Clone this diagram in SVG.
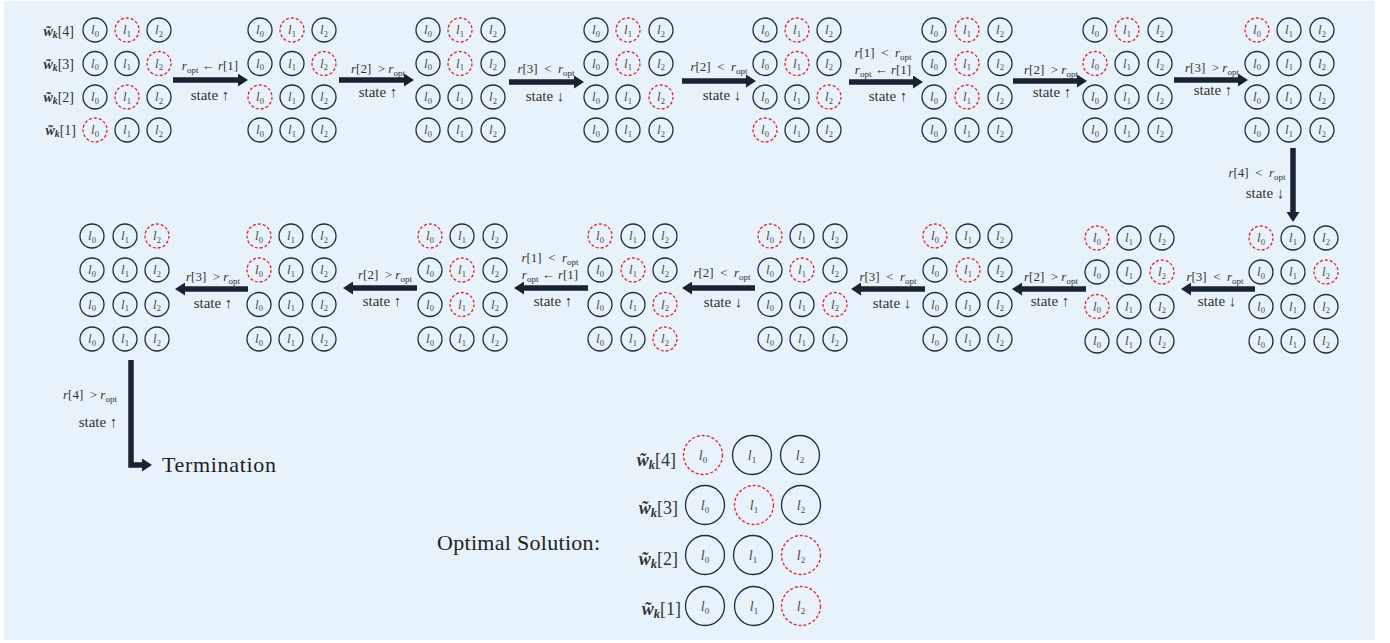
<svg xmlns="http://www.w3.org/2000/svg" width="1390" height="643" viewBox="0 0 1390 643">
<style>
.n{fill:none;stroke:#1e2d4a;stroke-width:1.3}
.r{fill:none;stroke:#e5222a;stroke-width:1.3;stroke-dasharray:3 2}
.t{font-family:"Liberation Serif",serif;font-size:13px;font-style:italic;fill:#4a4a4a;text-anchor:middle}
.t .s{font-size:8.5px;font-style:normal}
.o{font-family:"Liberation Serif",serif;font-size:14px;font-style:italic;fill:#4a4a4a;text-anchor:middle}
.o .s{font-size:9px;font-style:normal}
.ar{fill:none;stroke:#1a2233;stroke-width:5.5}
.tx{font-family:"Liberation Serif",serif;font-size:13px;fill:#333;text-anchor:middle}
.tx .i{font-style:italic}
.tx .sb{font-size:9px}
.st{font-family:"Liberation Serif",serif;font-size:15px;fill:#333;text-anchor:middle}
.wl{font-family:"Liberation Serif",serif;font-size:14px;fill:#333;text-anchor:end}
.wo{font-family:"Liberation Serif",serif;font-size:18px;fill:#333;text-anchor:end}
.wb{font-weight:bold;font-style:italic}
.ks{font-weight:bold;font-style:italic;font-size:70%}
.big{font-family:"Liberation Serif",serif;font-size:22px;fill:#222}
</style>
<defs>
<marker id="ah" markerUnits="userSpaceOnUse" markerWidth="10" markerHeight="13" refX="0" refY="6.5" orient="auto"><path d="M0,0 L10,6.5 L0,13 z" fill="#1a2233"/></marker>
</defs>
<rect x="4" y="1" width="1371" height="639" fill="#e8f2fa"/>

<g id="rowlabels">
<text class="wl" x="74" y="36"><tspan class="wb">w&#x303;</tspan><tspan class="ks" dy="2">k</tspan><tspan dy="-2">[4]</tspan></text>
<text class="wl" x="74" y="69"><tspan class="wb">w&#x303;</tspan><tspan class="ks" dy="2">k</tspan><tspan dy="-2">[3]</tspan></text>
<text class="wl" x="74" y="102"><tspan class="wb">w&#x303;</tspan><tspan class="ks" dy="2">k</tspan><tspan dy="-2">[2]</tspan></text>
<text class="wl" x="76" y="135"><tspan class="wb">w&#x303;</tspan><tspan class="ks" dy="2">k</tspan><tspan dy="-2">[1]</tspan></text>
</g>

<g id="g1">
<circle class="n" cx="95" cy="30" r="12"/><text class="t" x="95" y="34">l<tspan class="s" dy="2.5">0</tspan></text>
<circle class="r" cx="127" cy="30" r="12"/><text class="t" x="127" y="34">l<tspan class="s" dy="2.5">1</tspan></text>
<circle class="n" cx="159" cy="30" r="12"/><text class="t" x="159" y="34">l<tspan class="s" dy="2.5">2</tspan></text>
<circle class="n" cx="95" cy="63.5" r="12"/><text class="t" x="95" y="67.5">l<tspan class="s" dy="2.5">0</tspan></text>
<circle class="n" cx="127" cy="63.5" r="12"/><text class="t" x="127" y="67.5">l<tspan class="s" dy="2.5">1</tspan></text>
<circle class="r" cx="159" cy="63.5" r="12"/><text class="t" x="159" y="67.5">l<tspan class="s" dy="2.5">2</tspan></text>
<circle class="n" cx="95" cy="97" r="12"/><text class="t" x="95" y="101">l<tspan class="s" dy="2.5">0</tspan></text>
<circle class="r" cx="127" cy="97" r="12"/><text class="t" x="127" y="101">l<tspan class="s" dy="2.5">1</tspan></text>
<circle class="n" cx="159" cy="97" r="12"/><text class="t" x="159" y="101">l<tspan class="s" dy="2.5">2</tspan></text>
<circle class="r" cx="95" cy="130" r="12"/><text class="t" x="95" y="134">l<tspan class="s" dy="2.5">0</tspan></text>
<circle class="n" cx="127" cy="130" r="12"/><text class="t" x="127" y="134">l<tspan class="s" dy="2.5">1</tspan></text>
<circle class="n" cx="159" cy="130" r="12"/><text class="t" x="159" y="134">l<tspan class="s" dy="2.5">2</tspan></text>
</g>

<g id="g2">
<circle class="n" cx="260" cy="30" r="12"/><text class="t" x="260" y="34">l<tspan class="s" dy="2.5">0</tspan></text>
<circle class="r" cx="292" cy="30" r="12"/><text class="t" x="292" y="34">l<tspan class="s" dy="2.5">1</tspan></text>
<circle class="n" cx="324" cy="30" r="12"/><text class="t" x="324" y="34">l<tspan class="s" dy="2.5">2</tspan></text>
<circle class="n" cx="260" cy="63.5" r="12"/><text class="t" x="260" y="67.5">l<tspan class="s" dy="2.5">0</tspan></text>
<circle class="n" cx="292" cy="63.5" r="12"/><text class="t" x="292" y="67.5">l<tspan class="s" dy="2.5">1</tspan></text>
<circle class="r" cx="324" cy="63.5" r="12"/><text class="t" x="324" y="67.5">l<tspan class="s" dy="2.5">2</tspan></text>
<circle class="r" cx="260" cy="97" r="12"/><text class="t" x="260" y="101">l<tspan class="s" dy="2.5">0</tspan></text>
<circle class="n" cx="292" cy="97" r="12"/><text class="t" x="292" y="101">l<tspan class="s" dy="2.5">1</tspan></text>
<circle class="n" cx="324" cy="97" r="12"/><text class="t" x="324" y="101">l<tspan class="s" dy="2.5">2</tspan></text>
<circle class="n" cx="260" cy="130" r="12"/><text class="t" x="260" y="134">l<tspan class="s" dy="2.5">0</tspan></text>
<circle class="n" cx="292" cy="130" r="12"/><text class="t" x="292" y="134">l<tspan class="s" dy="2.5">1</tspan></text>
<circle class="n" cx="324" cy="130" r="12"/><text class="t" x="324" y="134">l<tspan class="s" dy="2.5">2</tspan></text>
</g>

<g id="g3">
<circle class="n" cx="428" cy="30" r="12"/><text class="t" x="428" y="34">l<tspan class="s" dy="2.5">0</tspan></text>
<circle class="r" cx="460" cy="30" r="12"/><text class="t" x="460" y="34">l<tspan class="s" dy="2.5">1</tspan></text>
<circle class="n" cx="493" cy="30" r="12"/><text class="t" x="493" y="34">l<tspan class="s" dy="2.5">2</tspan></text>
<circle class="n" cx="428" cy="63.5" r="12"/><text class="t" x="428" y="67.5">l<tspan class="s" dy="2.5">0</tspan></text>
<circle class="r" cx="460" cy="63.5" r="12"/><text class="t" x="460" y="67.5">l<tspan class="s" dy="2.5">1</tspan></text>
<circle class="n" cx="493" cy="63.5" r="12"/><text class="t" x="493" y="67.5">l<tspan class="s" dy="2.5">2</tspan></text>
<circle class="n" cx="428" cy="97" r="12"/><text class="t" x="428" y="101">l<tspan class="s" dy="2.5">0</tspan></text>
<circle class="n" cx="460" cy="97" r="12"/><text class="t" x="460" y="101">l<tspan class="s" dy="2.5">1</tspan></text>
<circle class="n" cx="493" cy="97" r="12"/><text class="t" x="493" y="101">l<tspan class="s" dy="2.5">2</tspan></text>
<circle class="n" cx="428" cy="130" r="12"/><text class="t" x="428" y="134">l<tspan class="s" dy="2.5">0</tspan></text>
<circle class="n" cx="460" cy="130" r="12"/><text class="t" x="460" y="134">l<tspan class="s" dy="2.5">1</tspan></text>
<circle class="n" cx="493" cy="130" r="12"/><text class="t" x="493" y="134">l<tspan class="s" dy="2.5">2</tspan></text>
</g>

<g id="g4">
<circle class="n" cx="596" cy="30" r="12"/><text class="t" x="596" y="34">l<tspan class="s" dy="2.5">0</tspan></text>
<circle class="r" cx="628" cy="30" r="12"/><text class="t" x="628" y="34">l<tspan class="s" dy="2.5">1</tspan></text>
<circle class="n" cx="661" cy="30" r="12"/><text class="t" x="661" y="34">l<tspan class="s" dy="2.5">2</tspan></text>
<circle class="n" cx="596" cy="63.5" r="12"/><text class="t" x="596" y="67.5">l<tspan class="s" dy="2.5">0</tspan></text>
<circle class="r" cx="628" cy="63.5" r="12"/><text class="t" x="628" y="67.5">l<tspan class="s" dy="2.5">1</tspan></text>
<circle class="n" cx="661" cy="63.5" r="12"/><text class="t" x="661" y="67.5">l<tspan class="s" dy="2.5">2</tspan></text>
<circle class="n" cx="596" cy="97" r="12"/><text class="t" x="596" y="101">l<tspan class="s" dy="2.5">0</tspan></text>
<circle class="n" cx="628" cy="97" r="12"/><text class="t" x="628" y="101">l<tspan class="s" dy="2.5">1</tspan></text>
<circle class="r" cx="661" cy="97" r="12"/><text class="t" x="661" y="101">l<tspan class="s" dy="2.5">2</tspan></text>
<circle class="n" cx="596" cy="130" r="12"/><text class="t" x="596" y="134">l<tspan class="s" dy="2.5">0</tspan></text>
<circle class="n" cx="628" cy="130" r="12"/><text class="t" x="628" y="134">l<tspan class="s" dy="2.5">1</tspan></text>
<circle class="n" cx="661" cy="130" r="12"/><text class="t" x="661" y="134">l<tspan class="s" dy="2.5">2</tspan></text>
</g>

<g id="g5">
<circle class="n" cx="765" cy="30" r="12"/><text class="t" x="765" y="34">l<tspan class="s" dy="2.5">0</tspan></text>
<circle class="r" cx="797" cy="30" r="12"/><text class="t" x="797" y="34">l<tspan class="s" dy="2.5">1</tspan></text>
<circle class="n" cx="829" cy="30" r="12"/><text class="t" x="829" y="34">l<tspan class="s" dy="2.5">2</tspan></text>
<circle class="n" cx="765" cy="63.5" r="12"/><text class="t" x="765" y="67.5">l<tspan class="s" dy="2.5">0</tspan></text>
<circle class="r" cx="797" cy="63.5" r="12"/><text class="t" x="797" y="67.5">l<tspan class="s" dy="2.5">1</tspan></text>
<circle class="n" cx="829" cy="63.5" r="12"/><text class="t" x="829" y="67.5">l<tspan class="s" dy="2.5">2</tspan></text>
<circle class="n" cx="765" cy="97" r="12"/><text class="t" x="765" y="101">l<tspan class="s" dy="2.5">0</tspan></text>
<circle class="n" cx="797" cy="97" r="12"/><text class="t" x="797" y="101">l<tspan class="s" dy="2.5">1</tspan></text>
<circle class="r" cx="829" cy="97" r="12"/><text class="t" x="829" y="101">l<tspan class="s" dy="2.5">2</tspan></text>
<circle class="r" cx="765" cy="130" r="12"/><text class="t" x="765" y="134">l<tspan class="s" dy="2.5">0</tspan></text>
<circle class="n" cx="797" cy="130" r="12"/><text class="t" x="797" y="134">l<tspan class="s" dy="2.5">1</tspan></text>
<circle class="n" cx="829" cy="130" r="12"/><text class="t" x="829" y="134">l<tspan class="s" dy="2.5">2</tspan></text>
</g>

<g id="g6">
<circle class="n" cx="934" cy="30" r="12"/><text class="t" x="934" y="34">l<tspan class="s" dy="2.5">0</tspan></text>
<circle class="r" cx="967" cy="30" r="12"/><text class="t" x="967" y="34">l<tspan class="s" dy="2.5">1</tspan></text>
<circle class="n" cx="1000" cy="30" r="12"/><text class="t" x="1000" y="34">l<tspan class="s" dy="2.5">2</tspan></text>
<circle class="n" cx="934" cy="63.5" r="12"/><text class="t" x="934" y="67.5">l<tspan class="s" dy="2.5">0</tspan></text>
<circle class="r" cx="967" cy="63.5" r="12"/><text class="t" x="967" y="67.5">l<tspan class="s" dy="2.5">1</tspan></text>
<circle class="n" cx="1000" cy="63.5" r="12"/><text class="t" x="1000" y="67.5">l<tspan class="s" dy="2.5">2</tspan></text>
<circle class="n" cx="934" cy="97" r="12"/><text class="t" x="934" y="101">l<tspan class="s" dy="2.5">0</tspan></text>
<circle class="r" cx="967" cy="97" r="12"/><text class="t" x="967" y="101">l<tspan class="s" dy="2.5">1</tspan></text>
<circle class="n" cx="1000" cy="97" r="12"/><text class="t" x="1000" y="101">l<tspan class="s" dy="2.5">2</tspan></text>
<circle class="n" cx="934" cy="130" r="12"/><text class="t" x="934" y="134">l<tspan class="s" dy="2.5">0</tspan></text>
<circle class="n" cx="967" cy="130" r="12"/><text class="t" x="967" y="134">l<tspan class="s" dy="2.5">1</tspan></text>
<circle class="n" cx="1000" cy="130" r="12"/><text class="t" x="1000" y="134">l<tspan class="s" dy="2.5">2</tspan></text>
</g>

<g id="g7">
<circle class="n" cx="1095" cy="30" r="12"/><text class="t" x="1095" y="34">l<tspan class="s" dy="2.5">0</tspan></text>
<circle class="r" cx="1127" cy="30" r="12"/><text class="t" x="1127" y="34">l<tspan class="s" dy="2.5">1</tspan></text>
<circle class="n" cx="1160" cy="30" r="12"/><text class="t" x="1160" y="34">l<tspan class="s" dy="2.5">2</tspan></text>
<circle class="r" cx="1095" cy="63.5" r="12"/><text class="t" x="1095" y="67.5">l<tspan class="s" dy="2.5">0</tspan></text>
<circle class="n" cx="1127" cy="63.5" r="12"/><text class="t" x="1127" y="67.5">l<tspan class="s" dy="2.5">1</tspan></text>
<circle class="n" cx="1160" cy="63.5" r="12"/><text class="t" x="1160" y="67.5">l<tspan class="s" dy="2.5">2</tspan></text>
<circle class="n" cx="1095" cy="97" r="12"/><text class="t" x="1095" y="101">l<tspan class="s" dy="2.5">0</tspan></text>
<circle class="n" cx="1127" cy="97" r="12"/><text class="t" x="1127" y="101">l<tspan class="s" dy="2.5">1</tspan></text>
<circle class="n" cx="1160" cy="97" r="12"/><text class="t" x="1160" y="101">l<tspan class="s" dy="2.5">2</tspan></text>
<circle class="n" cx="1095" cy="130" r="12"/><text class="t" x="1095" y="134">l<tspan class="s" dy="2.5">0</tspan></text>
<circle class="n" cx="1127" cy="130" r="12"/><text class="t" x="1127" y="134">l<tspan class="s" dy="2.5">1</tspan></text>
<circle class="n" cx="1160" cy="130" r="12"/><text class="t" x="1160" y="134">l<tspan class="s" dy="2.5">2</tspan></text>
</g>

<g id="g8">
<circle class="r" cx="1257" cy="30" r="12"/><text class="t" x="1257" y="34">l<tspan class="s" dy="2.5">0</tspan></text>
<circle class="n" cx="1289" cy="30" r="12"/><text class="t" x="1289" y="34">l<tspan class="s" dy="2.5">1</tspan></text>
<circle class="n" cx="1322" cy="30" r="12"/><text class="t" x="1322" y="34">l<tspan class="s" dy="2.5">2</tspan></text>
<circle class="n" cx="1257" cy="63.5" r="12"/><text class="t" x="1257" y="67.5">l<tspan class="s" dy="2.5">0</tspan></text>
<circle class="n" cx="1289" cy="63.5" r="12"/><text class="t" x="1289" y="67.5">l<tspan class="s" dy="2.5">1</tspan></text>
<circle class="n" cx="1322" cy="63.5" r="12"/><text class="t" x="1322" y="67.5">l<tspan class="s" dy="2.5">2</tspan></text>
<circle class="n" cx="1257" cy="97" r="12"/><text class="t" x="1257" y="101">l<tspan class="s" dy="2.5">0</tspan></text>
<circle class="n" cx="1289" cy="97" r="12"/><text class="t" x="1289" y="101">l<tspan class="s" dy="2.5">1</tspan></text>
<circle class="n" cx="1322" cy="97" r="12"/><text class="t" x="1322" y="101">l<tspan class="s" dy="2.5">2</tspan></text>
<circle class="n" cx="1257" cy="130" r="12"/><text class="t" x="1257" y="134">l<tspan class="s" dy="2.5">0</tspan></text>
<circle class="n" cx="1289" cy="130" r="12"/><text class="t" x="1289" y="134">l<tspan class="s" dy="2.5">1</tspan></text>
<circle class="n" cx="1322" cy="130" r="12"/><text class="t" x="1322" y="134">l<tspan class="s" dy="2.5">2</tspan></text>
</g>

<g id="b1">
<circle class="r" cx="1261" cy="238" r="12"/><text class="t" x="1261" y="242">l<tspan class="s" dy="2.5">0</tspan></text>
<circle class="n" cx="1293" cy="238" r="12"/><text class="t" x="1293" y="242">l<tspan class="s" dy="2.5">1</tspan></text>
<circle class="n" cx="1326" cy="238" r="12"/><text class="t" x="1326" y="242">l<tspan class="s" dy="2.5">2</tspan></text>
<circle class="n" cx="1261" cy="272" r="12"/><text class="t" x="1261" y="276">l<tspan class="s" dy="2.5">0</tspan></text>
<circle class="n" cx="1293" cy="272" r="12"/><text class="t" x="1293" y="276">l<tspan class="s" dy="2.5">1</tspan></text>
<circle class="r" cx="1326" cy="272" r="12"/><text class="t" x="1326" y="276">l<tspan class="s" dy="2.5">2</tspan></text>
<circle class="n" cx="1261" cy="306.5" r="12"/><text class="t" x="1261" y="310.5">l<tspan class="s" dy="2.5">0</tspan></text>
<circle class="n" cx="1293" cy="306.5" r="12"/><text class="t" x="1293" y="310.5">l<tspan class="s" dy="2.5">1</tspan></text>
<circle class="n" cx="1326" cy="306.5" r="12"/><text class="t" x="1326" y="310.5">l<tspan class="s" dy="2.5">2</tspan></text>
<circle class="n" cx="1261" cy="341" r="12"/><text class="t" x="1261" y="345">l<tspan class="s" dy="2.5">0</tspan></text>
<circle class="n" cx="1293" cy="341" r="12"/><text class="t" x="1293" y="345">l<tspan class="s" dy="2.5">1</tspan></text>
<circle class="n" cx="1326" cy="341" r="12"/><text class="t" x="1326" y="345">l<tspan class="s" dy="2.5">2</tspan></text>
</g>

<g id="b2">
<circle class="r" cx="1097" cy="238" r="12"/><text class="t" x="1097" y="242">l<tspan class="s" dy="2.5">0</tspan></text>
<circle class="n" cx="1129" cy="238" r="12"/><text class="t" x="1129" y="242">l<tspan class="s" dy="2.5">1</tspan></text>
<circle class="n" cx="1162" cy="238" r="12"/><text class="t" x="1162" y="242">l<tspan class="s" dy="2.5">2</tspan></text>
<circle class="n" cx="1097" cy="272" r="12"/><text class="t" x="1097" y="276">l<tspan class="s" dy="2.5">0</tspan></text>
<circle class="n" cx="1129" cy="272" r="12"/><text class="t" x="1129" y="276">l<tspan class="s" dy="2.5">1</tspan></text>
<circle class="r" cx="1162" cy="272" r="12"/><text class="t" x="1162" y="276">l<tspan class="s" dy="2.5">2</tspan></text>
<circle class="r" cx="1097" cy="306.5" r="12"/><text class="t" x="1097" y="310.5">l<tspan class="s" dy="2.5">0</tspan></text>
<circle class="n" cx="1129" cy="306.5" r="12"/><text class="t" x="1129" y="310.5">l<tspan class="s" dy="2.5">1</tspan></text>
<circle class="n" cx="1162" cy="306.5" r="12"/><text class="t" x="1162" y="310.5">l<tspan class="s" dy="2.5">2</tspan></text>
<circle class="n" cx="1097" cy="341" r="12"/><text class="t" x="1097" y="345">l<tspan class="s" dy="2.5">0</tspan></text>
<circle class="n" cx="1129" cy="341" r="12"/><text class="t" x="1129" y="345">l<tspan class="s" dy="2.5">1</tspan></text>
<circle class="n" cx="1162" cy="341" r="12"/><text class="t" x="1162" y="345">l<tspan class="s" dy="2.5">2</tspan></text>
</g>

<g id="b3">
<circle class="r" cx="935" cy="236" r="12"/><text class="t" x="935" y="240">l<tspan class="s" dy="2.5">0</tspan></text>
<circle class="n" cx="968" cy="236" r="12"/><text class="t" x="968" y="240">l<tspan class="s" dy="2.5">1</tspan></text>
<circle class="n" cx="1000" cy="236" r="12"/><text class="t" x="1000" y="240">l<tspan class="s" dy="2.5">2</tspan></text>
<circle class="n" cx="935" cy="270" r="12"/><text class="t" x="935" y="274">l<tspan class="s" dy="2.5">0</tspan></text>
<circle class="r" cx="968" cy="270" r="12"/><text class="t" x="968" y="274">l<tspan class="s" dy="2.5">1</tspan></text>
<circle class="n" cx="1000" cy="270" r="12"/><text class="t" x="1000" y="274">l<tspan class="s" dy="2.5">2</tspan></text>
<circle class="n" cx="935" cy="304.5" r="12"/><text class="t" x="935" y="308.5">l<tspan class="s" dy="2.5">0</tspan></text>
<circle class="n" cx="968" cy="304.5" r="12"/><text class="t" x="968" y="308.5">l<tspan class="s" dy="2.5">1</tspan></text>
<circle class="n" cx="1000" cy="304.5" r="12"/><text class="t" x="1000" y="308.5">l<tspan class="s" dy="2.5">2</tspan></text>
<circle class="n" cx="935" cy="339" r="12"/><text class="t" x="935" y="343">l<tspan class="s" dy="2.5">0</tspan></text>
<circle class="n" cx="968" cy="339" r="12"/><text class="t" x="968" y="343">l<tspan class="s" dy="2.5">1</tspan></text>
<circle class="n" cx="1000" cy="339" r="12"/><text class="t" x="1000" y="343">l<tspan class="s" dy="2.5">2</tspan></text>
</g>

<g id="b4">
<circle class="r" cx="770" cy="236" r="12"/><text class="t" x="770" y="240">l<tspan class="s" dy="2.5">0</tspan></text>
<circle class="n" cx="802" cy="236" r="12"/><text class="t" x="802" y="240">l<tspan class="s" dy="2.5">1</tspan></text>
<circle class="n" cx="835" cy="236" r="12"/><text class="t" x="835" y="240">l<tspan class="s" dy="2.5">2</tspan></text>
<circle class="n" cx="770" cy="270" r="12"/><text class="t" x="770" y="274">l<tspan class="s" dy="2.5">0</tspan></text>
<circle class="r" cx="802" cy="270" r="12"/><text class="t" x="802" y="274">l<tspan class="s" dy="2.5">1</tspan></text>
<circle class="n" cx="835" cy="270" r="12"/><text class="t" x="835" y="274">l<tspan class="s" dy="2.5">2</tspan></text>
<circle class="n" cx="770" cy="304.5" r="12"/><text class="t" x="770" y="308.5">l<tspan class="s" dy="2.5">0</tspan></text>
<circle class="n" cx="802" cy="304.5" r="12"/><text class="t" x="802" y="308.5">l<tspan class="s" dy="2.5">1</tspan></text>
<circle class="r" cx="835" cy="304.5" r="12"/><text class="t" x="835" y="308.5">l<tspan class="s" dy="2.5">2</tspan></text>
<circle class="n" cx="770" cy="339" r="12"/><text class="t" x="770" y="343">l<tspan class="s" dy="2.5">0</tspan></text>
<circle class="n" cx="802" cy="339" r="12"/><text class="t" x="802" y="343">l<tspan class="s" dy="2.5">1</tspan></text>
<circle class="n" cx="835" cy="339" r="12"/><text class="t" x="835" y="343">l<tspan class="s" dy="2.5">2</tspan></text>
</g>

<g id="b5">
<circle class="r" cx="600" cy="236" r="12"/><text class="t" x="600" y="240">l<tspan class="s" dy="2.5">0</tspan></text>
<circle class="n" cx="633" cy="236" r="12"/><text class="t" x="633" y="240">l<tspan class="s" dy="2.5">1</tspan></text>
<circle class="n" cx="665" cy="236" r="12"/><text class="t" x="665" y="240">l<tspan class="s" dy="2.5">2</tspan></text>
<circle class="n" cx="600" cy="270" r="12"/><text class="t" x="600" y="274">l<tspan class="s" dy="2.5">0</tspan></text>
<circle class="r" cx="633" cy="270" r="12"/><text class="t" x="633" y="274">l<tspan class="s" dy="2.5">1</tspan></text>
<circle class="n" cx="665" cy="270" r="12"/><text class="t" x="665" y="274">l<tspan class="s" dy="2.5">2</tspan></text>
<circle class="n" cx="600" cy="304.5" r="12"/><text class="t" x="600" y="308.5">l<tspan class="s" dy="2.5">0</tspan></text>
<circle class="n" cx="633" cy="304.5" r="12"/><text class="t" x="633" y="308.5">l<tspan class="s" dy="2.5">1</tspan></text>
<circle class="r" cx="665" cy="304.5" r="12"/><text class="t" x="665" y="308.5">l<tspan class="s" dy="2.5">2</tspan></text>
<circle class="n" cx="600" cy="339" r="12"/><text class="t" x="600" y="343">l<tspan class="s" dy="2.5">0</tspan></text>
<circle class="n" cx="633" cy="339" r="12"/><text class="t" x="633" y="343">l<tspan class="s" dy="2.5">1</tspan></text>
<circle class="r" cx="665" cy="339" r="12"/><text class="t" x="665" y="343">l<tspan class="s" dy="2.5">2</tspan></text>
</g>

<g id="b6">
<circle class="r" cx="430" cy="236" r="12"/><text class="t" x="430" y="240">l<tspan class="s" dy="2.5">0</tspan></text>
<circle class="n" cx="462" cy="236" r="12"/><text class="t" x="462" y="240">l<tspan class="s" dy="2.5">1</tspan></text>
<circle class="n" cx="495" cy="236" r="12"/><text class="t" x="495" y="240">l<tspan class="s" dy="2.5">2</tspan></text>
<circle class="n" cx="430" cy="270" r="12"/><text class="t" x="430" y="274">l<tspan class="s" dy="2.5">0</tspan></text>
<circle class="r" cx="462" cy="270" r="12"/><text class="t" x="462" y="274">l<tspan class="s" dy="2.5">1</tspan></text>
<circle class="n" cx="495" cy="270" r="12"/><text class="t" x="495" y="274">l<tspan class="s" dy="2.5">2</tspan></text>
<circle class="n" cx="430" cy="304.5" r="12"/><text class="t" x="430" y="308.5">l<tspan class="s" dy="2.5">0</tspan></text>
<circle class="r" cx="462" cy="304.5" r="12"/><text class="t" x="462" y="308.5">l<tspan class="s" dy="2.5">1</tspan></text>
<circle class="n" cx="495" cy="304.5" r="12"/><text class="t" x="495" y="308.5">l<tspan class="s" dy="2.5">2</tspan></text>
<circle class="n" cx="430" cy="339" r="12"/><text class="t" x="430" y="343">l<tspan class="s" dy="2.5">0</tspan></text>
<circle class="n" cx="462" cy="339" r="12"/><text class="t" x="462" y="343">l<tspan class="s" dy="2.5">1</tspan></text>
<circle class="n" cx="495" cy="339" r="12"/><text class="t" x="495" y="343">l<tspan class="s" dy="2.5">2</tspan></text>
</g>

<g id="b7">
<circle class="r" cx="259" cy="236" r="12"/><text class="t" x="259" y="240">l<tspan class="s" dy="2.5">0</tspan></text>
<circle class="n" cx="291" cy="236" r="12"/><text class="t" x="291" y="240">l<tspan class="s" dy="2.5">1</tspan></text>
<circle class="n" cx="324" cy="236" r="12"/><text class="t" x="324" y="240">l<tspan class="s" dy="2.5">2</tspan></text>
<circle class="r" cx="259" cy="270" r="12"/><text class="t" x="259" y="274">l<tspan class="s" dy="2.5">0</tspan></text>
<circle class="n" cx="291" cy="270" r="12"/><text class="t" x="291" y="274">l<tspan class="s" dy="2.5">1</tspan></text>
<circle class="n" cx="324" cy="270" r="12"/><text class="t" x="324" y="274">l<tspan class="s" dy="2.5">2</tspan></text>
<circle class="n" cx="259" cy="304.5" r="12"/><text class="t" x="259" y="308.5">l<tspan class="s" dy="2.5">0</tspan></text>
<circle class="n" cx="291" cy="304.5" r="12"/><text class="t" x="291" y="308.5">l<tspan class="s" dy="2.5">1</tspan></text>
<circle class="n" cx="324" cy="304.5" r="12"/><text class="t" x="324" y="308.5">l<tspan class="s" dy="2.5">2</tspan></text>
<circle class="n" cx="259" cy="339" r="12"/><text class="t" x="259" y="343">l<tspan class="s" dy="2.5">0</tspan></text>
<circle class="n" cx="291" cy="339" r="12"/><text class="t" x="291" y="343">l<tspan class="s" dy="2.5">1</tspan></text>
<circle class="n" cx="324" cy="339" r="12"/><text class="t" x="324" y="343">l<tspan class="s" dy="2.5">2</tspan></text>
</g>

<g id="b8">
<circle class="n" cx="92" cy="236" r="12"/><text class="t" x="92" y="240">l<tspan class="s" dy="2.5">0</tspan></text>
<circle class="n" cx="125" cy="236" r="12"/><text class="t" x="125" y="240">l<tspan class="s" dy="2.5">1</tspan></text>
<circle class="r" cx="157" cy="236" r="12"/><text class="t" x="157" y="240">l<tspan class="s" dy="2.5">2</tspan></text>
<circle class="n" cx="92" cy="270" r="12"/><text class="t" x="92" y="274">l<tspan class="s" dy="2.5">0</tspan></text>
<circle class="n" cx="125" cy="270" r="12"/><text class="t" x="125" y="274">l<tspan class="s" dy="2.5">1</tspan></text>
<circle class="n" cx="157" cy="270" r="12"/><text class="t" x="157" y="274">l<tspan class="s" dy="2.5">2</tspan></text>
<circle class="n" cx="92" cy="304.5" r="12"/><text class="t" x="92" y="308.5">l<tspan class="s" dy="2.5">0</tspan></text>
<circle class="n" cx="125" cy="304.5" r="12"/><text class="t" x="125" y="308.5">l<tspan class="s" dy="2.5">1</tspan></text>
<circle class="n" cx="157" cy="304.5" r="12"/><text class="t" x="157" y="308.5">l<tspan class="s" dy="2.5">2</tspan></text>
<circle class="n" cx="92" cy="339" r="12"/><text class="t" x="92" y="343">l<tspan class="s" dy="2.5">0</tspan></text>
<circle class="n" cx="125" cy="339" r="12"/><text class="t" x="125" y="343">l<tspan class="s" dy="2.5">1</tspan></text>
<circle class="n" cx="157" cy="339" r="12"/><text class="t" x="157" y="343">l<tspan class="s" dy="2.5">2</tspan></text>
</g>

<g id="connectors">
<line class="ar" x1="173" y1="80" x2="238" y2="80" marker-end="url(#ah)"/>
<line class="ar" x1="339" y1="80" x2="404" y2="80" marker-end="url(#ah)"/>
<line class="ar" x1="509" y1="82" x2="574" y2="82" marker-end="url(#ah)"/>
<line class="ar" x1="682" y1="81" x2="746" y2="81" marker-end="url(#ah)"/>
<line class="ar" x1="849" y1="82" x2="913" y2="82" marker-end="url(#ah)"/>
<line class="ar" x1="1013" y1="81" x2="1077" y2="81" marker-end="url(#ah)"/>
<line class="ar" x1="1174" y1="80" x2="1238" y2="80" marker-end="url(#ah)"/>
<line class="ar" x1="1293" y1="148" x2="1293" y2="212" marker-end="url(#ah)"/>
<line class="ar" x1="1255" y1="289" x2="1191" y2="289" marker-end="url(#ah)"/>
<line class="ar" x1="1086" y1="289" x2="1022" y2="289" marker-end="url(#ah)"/>
<line class="ar" x1="925" y1="289" x2="861" y2="289" marker-end="url(#ah)"/>
<line class="ar" x1="755" y1="288" x2="692" y2="288" marker-end="url(#ah)"/>
<line class="ar" x1="588" y1="288" x2="524" y2="288" marker-end="url(#ah)"/>
<line class="ar" x1="417" y1="288" x2="353" y2="288" marker-end="url(#ah)"/>
<line class="ar" x1="248" y1="289" x2="185" y2="289" marker-end="url(#ah)"/>
<path class="ar" d="M131,360 V465 H142" stroke-width="6" marker-end="url(#ah)"/>
</g>

<g id="labels">
<text class="tx" x="210" y="70"><tspan class="i">r</tspan><tspan class="sb" dy="2.5">opt</tspan><tspan dy="-2.5"> ← </tspan><tspan class="i">r</tspan>[1]</text>
<text class="st" x="210" y="100">state ↑</text>
<text class="tx" x="378" y="73"><tspan class="i">r</tspan>[2]&#160; &gt; <tspan class="i">r</tspan><tspan class="sb" dy="2.5">opt</tspan></text>
<text class="st" x="378" y="97">state ↑</text>
<text class="tx" x="546" y="73"><tspan class="i">r</tspan>[3]&#160; &lt;&#160; <tspan class="i">r</tspan><tspan class="sb" dy="2.5">opt</tspan></text>
<text class="st" x="545" y="101">state ↓</text>
<text class="tx" x="719" y="71"><tspan class="i">r</tspan>[2]&#160; &lt;&#160; <tspan class="i">r</tspan><tspan class="sb" dy="2.5">opt</tspan></text>
<text class="st" x="722" y="100">state ↓</text>
<text class="tx" x="883" y="57"><tspan class="i">r</tspan>[1]&#160; &lt;&#160; <tspan class="i">r</tspan><tspan class="sb" dy="2.5">opt</tspan></text>
<text class="tx" x="883" y="74"><tspan class="i">r</tspan><tspan class="sb" dy="2.5">opt</tspan><tspan dy="-2.5"> ← </tspan><tspan class="i">r</tspan>[1]</text>
<text class="st" x="888" y="101">state ↑</text>
<text class="tx" x="1051" y="74"><tspan class="i">r</tspan>[2]&#160; &gt; <tspan class="i">r</tspan><tspan class="sb" dy="2.5">opt</tspan></text>
<text class="st" x="1052" y="97">state ↑</text>
<text class="tx" x="1212" y="72"><tspan class="i">r</tspan>[3]&#160; &gt; <tspan class="i">r</tspan><tspan class="sb" dy="2.5">opt</tspan></text>
<text class="st" x="1213" y="95">state ↑</text>
<text class="tx" x="1257" y="177"><tspan class="i">r</tspan>[4]&#160; &lt;&#160; <tspan class="i">r</tspan><tspan class="sb" dy="2.5">opt</tspan></text>
<text class="st" x="1265" y="198">state ↓</text>
<text class="tx" x="1215" y="281"><tspan class="i">r</tspan>[3]&#160; &lt;&#160; <tspan class="i">r</tspan><tspan class="sb" dy="2.5">opt</tspan></text>
<text class="st" x="1217" y="306">state ↓</text>
<text class="tx" x="1051" y="281"><tspan class="i">r</tspan>[2]&#160; &gt; <tspan class="i">r</tspan><tspan class="sb" dy="2.5">opt</tspan></text>
<text class="st" x="1050" y="306">state ↑</text>
<text class="tx" x="888" y="281"><tspan class="i">r</tspan>[3]&#160; &lt;&#160; <tspan class="i">r</tspan><tspan class="sb" dy="2.5">opt</tspan></text>
<text class="st" x="892" y="308">state ↓</text>
<text class="tx" x="722" y="277"><tspan class="i">r</tspan>[2]&#160; &lt;&#160; <tspan class="i">r</tspan><tspan class="sb" dy="2.5">opt</tspan></text>
<text class="st" x="723" y="307">state ↓</text>
<text class="tx" x="550" y="262"><tspan class="i">r</tspan>[1]&#160; &lt;&#160; <tspan class="i">r</tspan><tspan class="sb" dy="2.5">opt</tspan></text>
<text class="tx" x="550" y="279"><tspan class="i">r</tspan><tspan class="sb" dy="2.5">opt</tspan><tspan dy="-2.5"> ← </tspan><tspan class="i">r</tspan>[1]</text>
<text class="st" x="553" y="306">state ↑</text>
<text class="tx" x="385" y="279"><tspan class="i">r</tspan>[2]&#160; &gt; <tspan class="i">r</tspan><tspan class="sb" dy="2.5">opt</tspan></text>
<text class="st" x="382" y="306">state ↑</text>
<text class="tx" x="213" y="281"><tspan class="i">r</tspan>[3]&#160; &gt; <tspan class="i">r</tspan><tspan class="sb" dy="2.5">opt</tspan></text>
<text class="st" x="213" y="308">state ↑</text>
<text class="tx" x="90" y="399"><tspan class="i">r</tspan>[4]&#160; &gt; <tspan class="i">r</tspan><tspan class="sb" dy="2.5">opt</tspan></text>
<text class="st" x="98" y="427">state ↑</text>
<text class="big" x="162" y="472" font-size="21" textLength="114">Termination</text>
<text class="big" x="437" y="550" font-size="23" textLength="163">Optimal Solution:</text>
</g>

<g id="optimal">
<text class="wo" x="676" y="466"><tspan class="wb">w&#x303;</tspan><tspan class="ks" dy="3">k</tspan><tspan dy="-3">[4]</tspan></text>
<text class="wo" x="678" y="514"><tspan class="wb">w&#x303;</tspan><tspan class="ks" dy="3">k</tspan><tspan dy="-3">[3]</tspan></text>
<text class="wo" x="678" y="565"><tspan class="wb">w&#x303;</tspan><tspan class="ks" dy="3">k</tspan><tspan dy="-3">[2]</tspan></text>
<text class="wo" x="681" y="615"><tspan class="wb">w&#x303;</tspan><tspan class="ks" dy="3">k</tspan><tspan dy="-3">[1]</tspan></text>
<circle class="r" cx="703" cy="455" r="19.5"/><text class="o" x="703" y="460">l<tspan class="s" dy="3">0</tspan></text>
<circle class="n" cx="752" cy="455" r="19.5"/><text class="o" x="752" y="460">l<tspan class="s" dy="3">1</tspan></text>
<circle class="n" cx="800" cy="455" r="19.5"/><text class="o" x="800" y="460">l<tspan class="s" dy="3">2</tspan></text>
<circle class="n" cx="705" cy="505" r="19.5"/><text class="o" x="705" y="510">l<tspan class="s" dy="3">0</tspan></text>
<circle class="r" cx="754" cy="505" r="19.5"/><text class="o" x="754" y="510">l<tspan class="s" dy="3">1</tspan></text>
<circle class="n" cx="801" cy="505" r="19.5"/><text class="o" x="801" y="510">l<tspan class="s" dy="3">2</tspan></text>
<circle class="n" cx="705" cy="555" r="19.5"/><text class="o" x="705" y="560">l<tspan class="s" dy="3">0</tspan></text>
<circle class="n" cx="753" cy="555" r="19.5"/><text class="o" x="753" y="560">l<tspan class="s" dy="3">1</tspan></text>
<circle class="r" cx="801" cy="555" r="19.5"/><text class="o" x="801" y="560">l<tspan class="s" dy="3">2</tspan></text>
<circle class="n" cx="705" cy="606" r="19.5"/><text class="o" x="705" y="611">l<tspan class="s" dy="3">0</tspan></text>
<circle class="n" cx="754" cy="606" r="19.5"/><text class="o" x="754" y="611">l<tspan class="s" dy="3">1</tspan></text>
<circle class="r" cx="801" cy="606" r="19.5"/><text class="o" x="801" y="611">l<tspan class="s" dy="3">2</tspan></text>
</g>
</svg>
